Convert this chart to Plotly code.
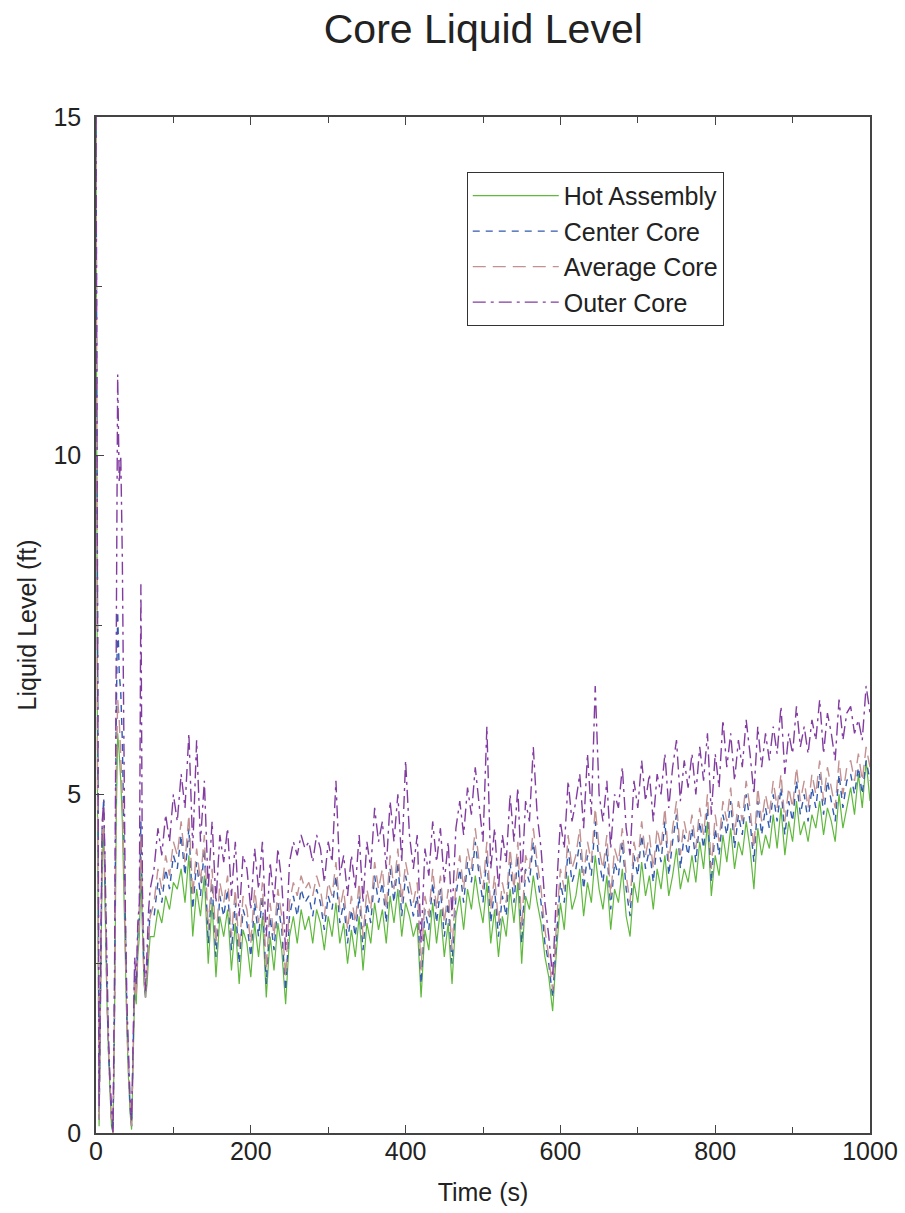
import plotly.graph_objects as go

# ---- data ----
TIME_EARLY = [0, 2, 4, 6, 8, 10, 12, 14, 16, 18, 20, 22, 24, 26, 28, 30, 32, 34,
              36, 38, 40, 42, 44, 46, 48, 50, 52, 54, 56, 58, 60, 62, 64, 66, 68, 70]
TIME_LATE = list(range(75, 1001, 5))
TIME_S = TIME_EARLY + TIME_LATE

HOT_ASSEMBLY = [
    15, 4.8, 0.1, 2.0, 4.0, 4.4, 3.1, 2.0, 1.2, 0.6, 0.1, 0.0, 1.7, 4.5, 5.9, 5.6, 5.2, 4.6,
    3.5, 2.4, 1.5, 0.8, 0.3, 0.05, 1.1, 2.1, 1.9, 2.6, 2.9, 3.9, 3.0, 2.2, 2.0, 2.2, 2.6, 2.9,
    2.9, 3.3, 3.1, 3.5, 3.3, 3.7, 3.6, 3.9, 3.4, 4.1,
    2.9, 3.6, 3.2, 3.8, 2.5, 3.4, 2.3, 3.2, 2.9, 3.3,
    2.4, 3.1, 2.2, 3.0, 2.8, 2.3, 3.1, 2.6, 3.2, 2.0,
    2.9, 2.4, 3.1, 2.7, 1.9, 2.9, 3.2, 2.8, 3.3, 3.0,
    3.2, 2.8, 3.3, 3.1, 2.7, 3.2, 2.9, 3.4, 2.8, 3.1,
    2.5, 3.0, 2.6, 3.2, 2.4, 3.1, 2.8, 3.4, 3.0, 3.3,
    2.8, 3.5, 3.1, 3.6, 2.9, 3.4, 3.2, 2.9, 3.1, 2.0,
    3.0, 2.7, 3.4, 2.8, 3.3, 2.6, 3.1, 2.2, 3.2, 3.5,
    3.0, 3.6, 3.3, 3.8, 3.4, 3.1, 3.7, 2.8, 3.3, 2.6,
    3.2, 2.9, 3.6, 3.1, 3.7, 2.5, 3.5, 3.3, 3.8, 3.4,
    3.1, 2.6, 2.3, 1.8, 2.7, 3.4, 3.0, 3.8, 3.3, 3.5,
    3.9, 3.2, 3.7, 3.4, 4.1, 3.6, 3.3, 3.8, 3.0, 3.6,
    3.4, 3.9, 3.2, 2.9, 3.7, 3.4, 4.0, 3.5, 3.8, 3.3,
    3.9, 3.6, 4.1, 3.5, 3.8, 4.2, 3.6, 3.9, 3.7, 4.1,
    3.7, 4.3, 3.9, 4.6, 3.5, 4.1, 3.8, 4.4, 4.0, 4.5,
    3.9, 4.3, 4.1, 4.6, 4.2, 3.6, 4.5, 4.1, 4.4, 4.2,
    4.7, 4.2, 4.8, 4.1, 4.6, 4.3, 4.9, 4.4, 4.6, 4.3,
    4.7, 4.5, 4.9, 4.4, 4.8, 4.6, 4.3, 5.0, 4.5, 4.8,
    5.1, 4.7, 5.3, 4.8, 5.5, 4.9,
]

CENTER_CORE = [
    15, 5.5, 0.2, 2.3, 4.5, 4.95, 3.4, 2.2, 1.3, 0.7, 0.2, 0.0, 2.0, 6.0, 7.7, 6.8, 6.5, 5.8,
    4.2, 2.8, 1.7, 1.0, 0.4, 0.1, 1.3, 2.4, 2.1, 2.9, 3.2, 4.6, 3.3, 2.4, 2.0, 2.5, 3.0, 3.3,
    3.2, 3.7, 3.4, 3.9, 3.6, 4.1, 3.9, 4.4, 3.8, 4.5,
    3.3, 4.0, 3.5, 4.2, 2.8, 3.7, 2.6, 3.5, 3.2, 3.6,
    2.7, 3.4, 2.5, 3.3, 3.1, 2.6, 3.4, 2.9, 3.5, 2.2,
    3.2, 2.7, 3.4, 3.0, 2.1, 3.2, 3.5, 3.2, 3.6, 3.4,
    3.5, 3.2, 3.6, 3.4, 3.0, 3.5, 3.3, 3.8, 3.1, 3.4,
    2.8, 3.3, 2.9, 3.5, 2.7, 3.4, 3.1, 3.8, 3.4, 3.7,
    3.1, 3.9, 3.4, 4.0, 3.2, 3.8, 3.5, 3.2, 3.5, 2.2,
    3.3, 3.0, 3.7, 3.1, 3.6, 2.9, 3.4, 2.5, 3.5, 3.9,
    3.4, 4.0, 3.7, 4.3, 3.8, 3.4, 4.1, 3.1, 3.6, 2.9,
    3.5, 3.2, 4.0, 3.4, 4.1, 2.8, 3.9, 3.7, 4.3, 3.8,
    3.4, 2.8, 2.5, 2.0, 2.9, 3.7, 3.4, 4.2, 3.7, 3.9,
    4.3, 3.6, 4.1, 3.8, 4.6, 4.0, 3.7, 4.2, 3.3, 4.0,
    3.8, 4.3, 3.6, 3.2, 4.1, 3.8, 4.4, 3.9, 4.2, 3.7,
    4.3, 4.0, 4.6, 3.8, 4.3, 4.7, 3.9, 4.4, 4.1, 4.5,
    4.0, 4.6, 4.2, 4.8, 3.7, 4.5, 4.1, 4.7, 4.4, 4.9,
    4.2, 4.7, 4.4, 5.0, 4.6, 4.0, 4.9, 4.4, 4.8, 4.5,
    5.0, 4.6, 5.1, 4.4, 4.9, 4.6, 5.2, 4.7, 5.0, 4.6,
    5.1, 4.8, 5.3, 4.7, 5.2, 4.9, 4.6, 5.3, 4.8, 5.2,
    5.3, 5.0, 5.4, 5.0, 5.5, 5.2,
]

AVERAGE_CORE = [
    15, 5.2, 0.2, 2.2, 4.3, 4.7, 3.3, 2.1, 1.3, 0.7, 0.2, 0.0, 1.9, 5.2, 6.4, 6.1, 5.6, 5.0,
    3.9, 2.6, 1.6, 0.9, 0.4, 0.1, 1.2, 2.3, 2.0, 2.8, 3.1, 4.4, 3.2, 2.3, 2.0, 2.4, 2.9, 3.2,
    3.4, 3.9, 3.6, 4.1, 3.8, 4.3, 4.1, 4.6, 4.0, 4.7,
    3.5, 4.2, 3.7, 4.4, 3.0, 3.9, 2.8, 3.7, 3.4, 3.8,
    2.9, 3.6, 2.7, 3.5, 3.3, 2.8, 3.6, 3.1, 3.7, 2.4,
    3.4, 2.9, 3.6, 3.2, 2.3, 3.4, 3.7, 3.5, 3.8, 3.6,
    3.7, 3.5, 3.8, 3.6, 3.2, 3.7, 3.5, 4.0, 3.3, 3.6,
    3.0, 3.5, 3.1, 3.7, 2.9, 3.6, 3.3, 4.0, 3.6, 3.9,
    3.3, 4.1, 3.6, 4.2, 3.4, 4.0, 3.7, 3.4, 3.7, 2.4,
    3.5, 3.2, 3.9, 3.3, 3.8, 3.1, 3.6, 2.7, 3.7, 4.1,
    3.6, 4.2, 3.9, 4.5, 4.0, 3.6, 4.3, 3.3, 3.8, 3.1,
    3.7, 3.4, 4.2, 3.6, 4.3, 3.0, 4.1, 3.9, 4.5, 4.0,
    3.6, 3.0, 2.6, 2.1, 3.1, 3.9, 3.6, 4.4, 3.9, 4.1,
    4.5, 3.8, 4.3, 4.0, 4.8, 4.2, 3.9, 4.4, 3.5, 4.2,
    4.0, 4.5, 3.8, 3.4, 4.3, 4.0, 4.6, 4.1, 4.4, 3.9,
    4.5, 4.2, 4.8, 4.0, 4.5, 4.9, 4.1, 4.6, 4.3, 4.7,
    4.2, 4.8, 4.4, 5.0, 3.9, 4.7, 4.3, 4.9, 4.6, 5.1,
    4.4, 4.9, 4.6, 5.2, 4.8, 4.2, 5.1, 4.6, 5.0, 4.7,
    5.2, 4.8, 5.3, 4.6, 5.1, 4.8, 5.4, 4.9, 5.2, 4.8,
    5.3, 5.0, 5.5, 4.9, 5.4, 5.1, 4.8, 5.5, 5.0, 5.4,
    5.5, 5.2, 5.6, 5.2, 5.7, 5.4,
]

OUTER_CORE = [
    15, 6.0, 0.4, 2.5, 4.6, 4.9, 3.6, 2.4, 1.5, 0.8, 0.3, 0.0, 2.5, 7.5, 11.2, 9.6, 10.0, 8.5,
    5.5, 3.2, 1.9, 1.1, 0.5, 0.15, 1.4, 2.6, 2.2, 3.1, 3.4, 8.1, 3.6, 2.6, 2.1, 2.7, 3.3, 3.6,
    3.9, 4.5, 4.1, 4.7, 4.3, 5.0, 4.6, 5.3, 4.8, 5.9,
    4.2, 5.8, 4.3, 5.2, 3.6, 4.6, 3.4, 4.4, 4.0, 4.5,
    3.5, 4.3, 3.2, 4.1, 3.9, 3.3, 4.2, 3.6, 4.3, 2.9,
    4.0, 3.4, 4.2, 3.7, 2.7, 4.0, 4.3, 4.1, 4.4, 4.2,
    4.3, 4.0, 4.4, 4.2, 3.7, 4.3, 4.0, 5.2, 3.8, 4.1,
    3.5, 4.1, 3.6, 4.4, 3.4, 4.3, 3.9, 4.8, 4.3, 4.6,
    3.9, 4.9, 4.3, 5.0, 4.0, 5.5, 4.4, 3.9, 4.4, 2.8,
    4.2, 3.8, 4.6, 4.0, 4.5, 3.7, 4.3, 3.2, 4.5, 4.9,
    4.4, 5.1, 4.7, 5.4, 4.8, 4.3, 6.0, 3.9, 4.5, 3.6,
    4.4, 4.0, 5.0, 4.3, 5.1, 3.7, 4.9, 4.6, 5.7, 4.7,
    4.2, 3.4, 2.9, 2.3, 3.6, 4.6, 4.2, 5.2, 4.6, 4.9,
    5.3, 4.5, 5.6, 4.7, 6.6, 5.0, 4.6, 5.2, 4.2, 5.0,
    4.8, 5.4, 4.5, 4.1, 5.2, 4.8, 5.5, 4.9, 5.3, 4.6,
    5.3, 5.0, 5.6, 4.8, 5.4, 5.8, 4.9, 5.5, 5.1, 5.6,
    5.0, 5.7, 5.2, 5.9, 4.7, 5.6, 5.1, 6.1, 5.4, 5.9,
    5.2, 5.8, 5.4, 6.1, 5.6, 5.0, 6.0, 5.4, 5.9, 5.5,
    6.0, 5.6, 6.3, 5.3, 5.9, 5.6, 6.3, 5.7, 6.0, 5.6,
    6.1, 5.8, 6.4, 5.6, 6.2, 5.9, 5.5, 6.4, 5.8, 6.2,
    6.3, 5.9, 6.1, 5.8, 6.6, 6.2,
]

SERIES = [
    ("Hot Assembly", HOT_ASSEMBLY, "rgb(95,185,60)", "solid", 1.2),
    ("Center Core", CENTER_CORE, "rgb(50,90,175)", "7px,6px", 1.4),
    ("Average Core", AVERAGE_CORE, "rgb(195,145,145)", "13px,7px", 1.4),
    ("Outer Core", OUTER_CORE, "rgb(130,60,160)", "13px,5px,3px,5px", 1.4),
]

FONT = "Liberation Sans, Arial, sans-serif"

fig = go.Figure()
for name, ys, color, dash, width in SERIES:
    fig.add_trace(go.Scatter(
        x=TIME_S, y=ys, name=name, mode="lines",
        line=dict(color=color, dash=dash, width=width),
    ))

axis_common = dict(
    showgrid=False, zeroline=False, showline=True, automargin=False,
    linecolor="#444", linewidth=1.5, ticks="inside", ticklen=8,
    tickcolor="#444", tickwidth=1.2,
    tickfont=dict(family=FONT, size=25, color="#222"),
)

fig.update_layout(
    width=905, height=1213,
    paper_bgcolor="white", plot_bgcolor="white",
    margin=dict(l=96, r=35, t=117, b=80),
    font=dict(family=FONT, color="#222"),
    title=dict(text="Core Liquid Level", x=0.534, xanchor="center",
               y=0.988, yanchor="top", font=dict(family=FONT, size=41, color="#222")),
    xaxis=dict(range=[0, 1000], dtick=200, tick0=0, mirror="ticks",
               ticklabelstandoff=-5,
               minor=dict(dtick=100, ticks="inside", ticklen=6, tickcolor="#444"),
               title=dict(text="Time (s)", font=dict(family=FONT, size=25, color="#222"),
                          standoff=20),
               **axis_common),
    yaxis=dict(range=[0, 15], dtick=5, tick0=0, mirror=True,
               ticklabelstandoff=8,
               minor=dict(dtick=2.5, ticks="inside", ticklen=6, tickcolor="#444"),
               title=dict(text="Liquid Level (ft)", font=dict(family=FONT, size=25, color="#222"),
                          standoff=10),
               **axis_common),
    legend=dict(x=0.479, y=0.946, xanchor="left", yanchor="top",
                bgcolor="white", bordercolor="#333", borderwidth=1,
                font=dict(family=FONT, size=25, color="#222"),
                itemwidth=86, tracegroupgap=0),
    showlegend=True,
)

fig.write_html("out.html")
